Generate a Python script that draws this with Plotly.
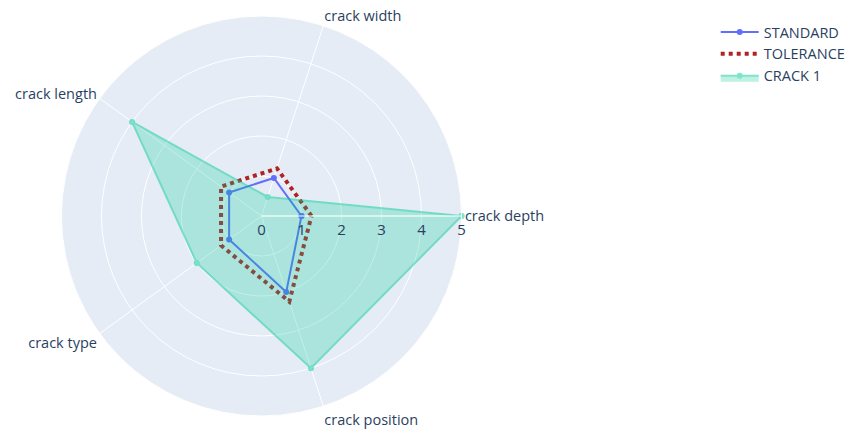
import plotly.graph_objects as go

# Crack inspection criteria compared on a radar chart
categories = ["crack depth", "crack width", "crack length", "crack type", "crack position"]
standard = [1, 1, 1, 1, 2]
tolerance = [1.25, 1.25, 1.25, 1.25, 2.25]
crack_1 = [5, 0.5, 4, 2, 4]


def closed(values):
    return values + values[:1]


theta = closed(categories)

fig = go.Figure()
fig.add_trace(go.Scatterpolar(
    r=closed(standard), theta=theta, name="STANDARD",
    mode="lines+markers", line=dict(color="#636efa", width=2),
))
fig.add_trace(go.Scatterpolar(
    r=closed(tolerance), theta=theta, name="TOLERANCE",
    mode="lines", line=dict(color="firebrick", width=4, dash="dot"),
))
fig.add_trace(go.Scatterpolar(
    r=closed(crack_1), theta=theta, name="CRACK 1",
    mode="lines+markers", fill="toself", opacity=0.5,
    line=dict(color="#00cc96", width=2),
))

fig.update_layout(
    template="plotly",
    width=851, height=429,
    margin=dict(l=0, r=0, t=16, b=13),
    polar=dict(
        domain=dict(x=[0.0, 0.616], y=[0, 1]),
        radialaxis=dict(visible=True, range=[0, 5], tickvals=[0, 1, 2, 3, 4, 5],
                        tickfont=dict(size=15)),
        angularaxis=dict(rotation=0, direction="counterclockwise",
                         tickfont=dict(size=14.5)),
    ),
    legend=dict(x=0.843, y=1.0, xanchor="left", yanchor="top",
                font=dict(size=14.5), itemwidth=38),
    font=dict(size=14),
)

fig.write_html("out.html")
